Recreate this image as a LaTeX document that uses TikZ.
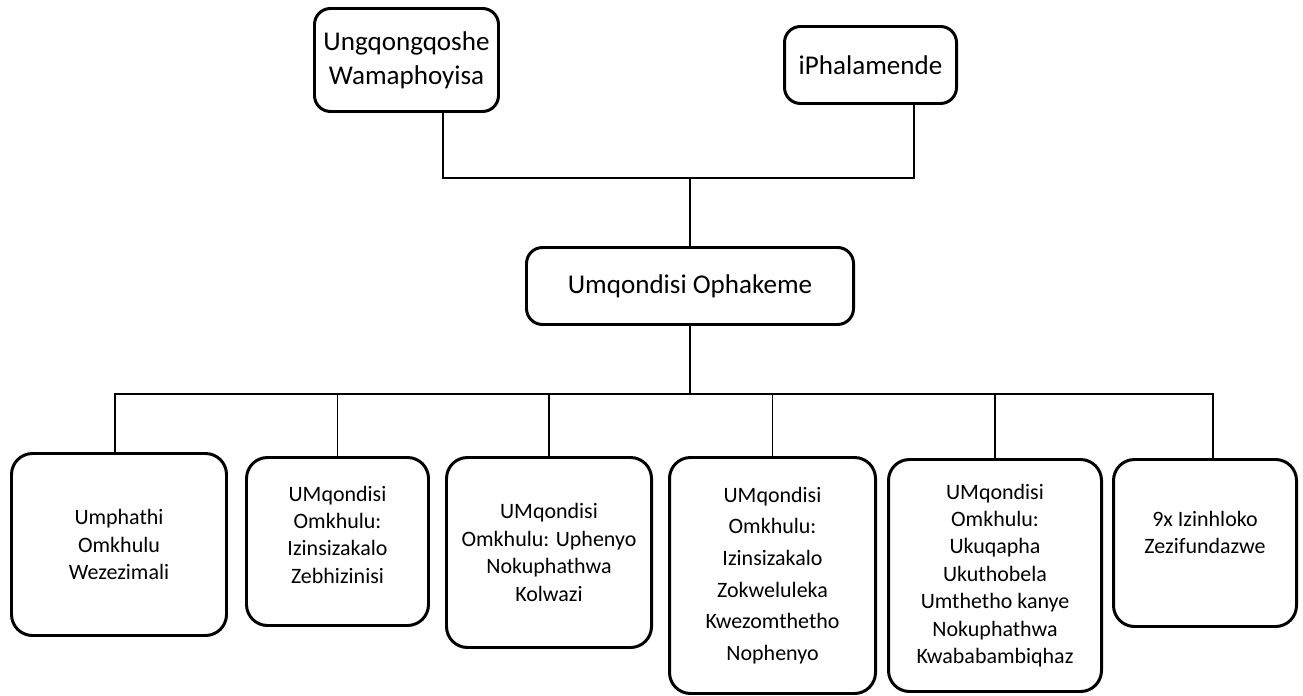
\documentclass[tikz,border=0pt]{standalone}
\usepackage{fontspec}
\setmainfont{Carlito}
\usetikzlibrary{calc}
\tikzstyle{line} = [draw, line width=0.9pt]
\tikzstyle{topbox} = [draw, rectangle, rounded corners=0.32cm, line width=1.7pt, align=center, font=\fontsize{15.4}{19.4}\selectfont]
\tikzstyle{unitbox} = [draw, rectangle, rounded corners=0.42cm, line width=1.7pt, align=center, font=\fontsize{12.5}{15.6}\selectfont]

\begin{document}
\begin{tikzpicture}
        \useasboundingbox (0,0) rectangle (26.06,-13.92);
        \node[topbox, minimum width=3.68cm, minimum height=2.06cm] (minister) at (8.13,-1.20) {Ungqongqoshe\\Wamaphoyisa};
        \node[topbox, minimum width=3.44cm, minimum height=1.54cm] (parliament) at (17.41,-1.30) {iPhalamende};
        \node[topbox, minimum width=6.54cm, minimum height=1.54cm] (hod) at (13.80,-5.72) {Umqondisi Ophakeme};
        \node[unitbox, minimum width=4.30cm, minimum height=3.64cm] (finance) at (2.38,-10.89) {Umphathi\\Omkhulu\\Wezezimali};
        \node[unitbox, minimum width=3.64cm, minimum height=3.36cm] (business) at (6.75,-10.83) {UMqondisi\\Omkhulu:\\Izinsizakalo\\Zebhizinisi\\[-0.27cm]\mbox{}};
        \node[unitbox, minimum width=4.10cm, minimum height=3.80cm] (inquiry) at (10.98,-11.05) {UMqondisi\\Omkhulu: Uphenyo\\Nokuphathwa\\Kolwazi};
        \node[unitbox, minimum width=4.12cm, minimum height=4.72cm, font=\fontsize{12.5}{18}\selectfont] (legal) at (15.45,-11.51) {UMqondisi\\Omkhulu:\\Izinsizakalo\\Zokweluleka\\Kwezomthetho\\Nophenyo};
        \node[unitbox, minimum width=4.26cm, minimum height=4.64cm] (compliance) at (19.90,-11.51) {UMqondisi\\Omkhulu:\\Ukuqapha\\Ukuthobela\\Umthetho kanye\\Nokuphathwa\\Kwababambiqhaz};
        \node[unitbox, minimum width=3.66cm, minimum height=3.34cm] (provinces) at (24.10,-10.86) {9x Izinhloko\\Zezifundazwe\\[-0.12cm]\mbox{}};
        % upper junction
        \path[line] ([xshift=0.73cm]minister.south) -- ++(0,-1.30) coordinate (topbar) -| ([xshift=0.87cm]parliament.south);
        \path[line] (hod.north) -- (hod.north |- topbar);
        % lower junction
        \path[line] (hod.south) -- ++(0,-1.36) coordinate (lowbar);
        \path[line] ([xshift=-0.08cm]finance.north) |- (lowbar) -| ([xshift=0.16cm]provinces.north);
        \foreach \unit in {business,inquiry,legal,compliance}
            \path[line] (\unit.north) -- (\unit.north |- lowbar);
    \end{tikzpicture}
\end{document}
